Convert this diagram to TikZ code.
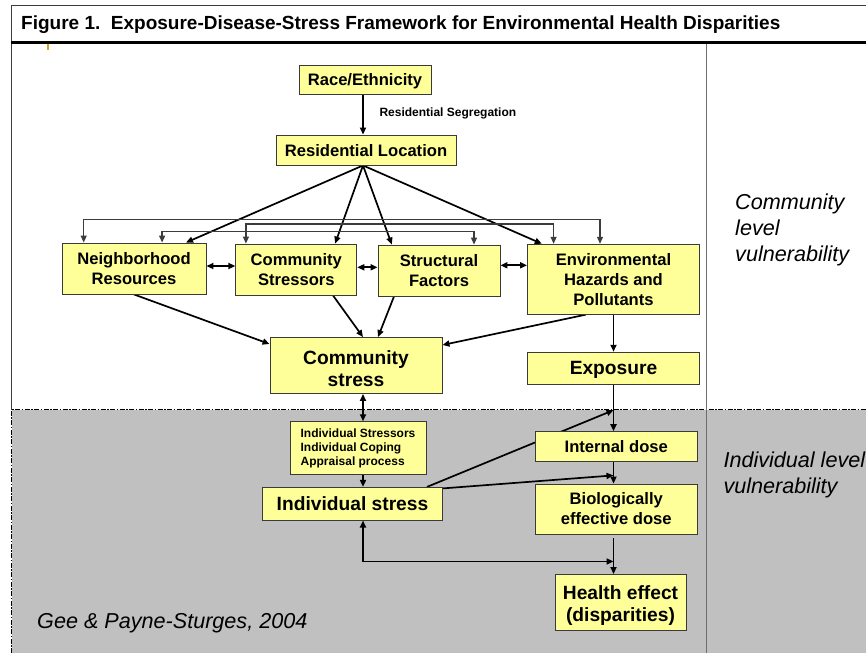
\documentclass[tikz,border=0pt]{standalone}
\usepackage{fontspec}
\setmainfont{Liberation Sans}
\usetikzlibrary{arrows.meta,calc}
\definecolor{boxfill}{HTML}{FFFF99}
\definecolor{boxline}{HTML}{3A3A3A}
\definecolor{panelgray}{HTML}{C0C0C0}
\definecolor{rulegray}{HTML}{6E6E6E}
\definecolor{framegray}{HTML}{3C3C3C}
\definecolor{tickgold}{HTML}{D9A21B}
\newcommand{\setfs}[2]{\fontsize{#1}{#2}\selectfont}
% raises the first line's height to a full em so two-line labels sit a little lower
\newcommand{\firstline}{\rule{0pt}{1em}}
\pgfdeclarelayer{back}
\pgfdeclarelayer{wires}
\pgfsetlayers{back,wires,main}
\begin{document}
\begin{tikzpicture}[x=1pt,y=-1pt,
  box/.style={draw=boxline, line width=0.9pt, fill=boxfill, inner sep=0pt,
              align=center, font=\bfseries\setfs{16.6}{20}},
  bigbox/.style={box, font=\bfseries\setfs{19.2}{22}},
  oneline/.style={text depth=0pt},
  smallbox/.style={box, align=left, font=\bfseries\setfs{12}{14}},
  tip/.tip={Triangle[length=7pt,width=6pt]},
  link/.style={line width=1.7pt, -tip},
  dlink/.style={line width=1.7pt, tip-tip},
  bracket/.style={draw=framegray, line width=1.25pt, tip-tip},
  sidelabel/.style={inner sep=0pt, align=left, font=\itshape\setfs{21.6}{26}},
  dashdot/.style={line width=1.2pt, dash pattern=on 5pt off 1.5pt on 1.5pt off 1.5pt}]
\useasboundingbox (0,0) rectangle (866,653);

% ---- frame, panels and rules ----
\begin{pgfonlayer}{back}
  \fill[white] (0,0) rectangle (866,653);
  \fill[panelgray] (11.7,409.5) rectangle (866,653);
  \draw[dashdot] (11.7,653) -- (11.7,409.5) -- (866,409.5);
  \draw[framegray, line width=1.5pt] (11.7,409.5) -- (11.7,5.7) -- (866,5.7);
  \draw[line width=3.3pt] (10.9,42.3) -- (866,42.3);
  \draw[rulegray, line width=1.4pt] (706.7,44) -- (706.7,653);
  \draw[tickgold, line width=1.6pt] (47.8,44) -- (47.8,50);
\end{pgfonlayer}

% ---- title and side labels ----
\node[inner sep=0pt, anchor=west, font=\bfseries\setfs{19}{22}] (title) at (21,25)
  {Figure 1.\ \ Exposure-Disease-Stress Framework for Environmental Health Disparities};
\node[sidelabel, anchor=north west] (commlevel) at (735,194) {Community\\level\\vulnerability};
\node[sidelabel, anchor=north west] (indlevel) at (723.3,451.2) {Individual level\\vulnerability};
\node[inner sep=0pt, anchor=base west, font=\itshape\setfs{21.6}{24}] (cite) at (37,628.5)
  {Gee \& Payne-Sturges, 2004};

% ---- boxes ----
\node[box, oneline, minimum width=132pt, minimum height=29pt] (race) at (365,79.5) {Race/Ethnicity};
\node[box, oneline, minimum width=180pt, minimum height=30pt] (resloc) at (366,150) {Residential Location};
\node[box, minimum width=144pt, minimum height=51pt] (nbr) at (134,268.5) {Neighborhood\\Resources};
\node[box, minimum width=121pt, minimum height=51pt] (cstr) at (296.3,269.5) {Community\\Stressors};
\node[box, minimum width=122pt, minimum height=51pt] (sf) at (439,270.5) {Structural\\Factors};
\node[box, minimum width=172pt, minimum height=70pt] (env) at (613.5,279.2) {Environmental\\Hazards and\\Pollutants};
\node[bigbox, minimum width=172pt, minimum height=56pt] (cst) at (356,365.5) {\firstline Community\\stress};
\node[bigbox, oneline, minimum width=172pt, minimum height=32pt] (expo) at (613.5,368.2) {Exposure};
\node[smallbox, minimum width=136pt, minimum height=52.6pt] (ind) at (358,448)
  {Individual Stressors\\Individual Coping\\Appraisal process};
\node[bigbox, oneline, minimum width=179.6pt, minimum height=32.7pt] (ist) at (352.5,503.7) {Individual stress};
\node[box, oneline, minimum width=162.7pt, minimum height=29.3pt] (idose) at (616.3,446.3) {Internal dose};
\node[box, minimum width=162.7pt, minimum height=50pt] (bio) at (616.3,509) {Biologically\\effective dose};
\node[bigbox, minimum width=131pt, minimum height=56pt] (health) at (620.5,602.5) {\firstline Health effect\\(disparities)};
\node[inner sep=0pt, anchor=west, font=\bfseries\setfs{12}{14}] (seg) at (379.3,113) {Residential Segregation};

% ---- connectors ----
\begin{pgfonlayer}{wires}
  % race to residential location
  \draw[link] ($(race.south)+(-2,0)$) -- ($(resloc.north)+(-3,0)$);

  % fan out from residential location
  \coordinate (hub) at ($(resloc.south)+(-3,0)$);
  \draw[link] (hub) -- ($(nbr.north)+(52,0)$);
  \draw[link] (hub) -- ($(cstr.north)+(38.8,0)$);
  \draw[link] (hub) -- ($(sf.north)+(-47.2,0)$);
  \draw[link] (hub) -- ($(env.north)+(-71.7,0)$);

  % links over the top of the four boxes
  \draw[bracket] ($(nbr.north)+(-50.3,0)$) -- ++(0,-23) -| ($(env.north)+(-13.5,0)$);
  \draw[bracket] ($(cstr.north)+(-50.4,0)$) -- ++(0,-19.5) -| ($(env.north)+(-59.9,0)$);
  \draw[bracket] ($(nbr.north)+(28.1,0)$) -- ++(0,-11) -| ($(sf.north)+(35,0)$);

  % side-by-side two-way links
  \coordinate (h1) at ($(nbr.east)+(0,-2.5)$);
  \draw[dlink] (h1) -- (h1 -| cstr.west);
  \coordinate (h2) at ($(cstr.east)+(0,-2.2)$);
  \draw[dlink] (h2) -- (h2 -| sf.west);
  \coordinate (h3) at ($(sf.east)+(0,-5.2)$);
  \draw[dlink] (h3) -- (h3 -| env.west);

  % into community stress
  \draw[link] (nbr.south) -- ($(cst.west)+(0,-21.5)$);
  \draw[link] ($(cstr.south)+(36.7,0)$) -- ($(cst.north)+(7,0)$);
  \draw[link] ($(sf.south)+(-45,0)$) -- ($(cst.north)+(22,0)$);
  \draw[link] ($(env.south)+(-27.7,0)$) -- ($(cst.east)+(0,-20.5)$);

  % exposure column
  \draw[link] (env.south) -- (expo.north);
  \draw[link] (expo.south) -- (expo.south |- idose.north);
  \coordinate (ex) at ($(expo.south)+(0,25.5)$);
  \coordinate (ids) at (expo.south |- idose.south);
  \coordinate (eb) at ($(ids)+(0,14)$);
  \draw[link] (ids) -- (expo.south |- bio.north);
  \coordinate (bs) at (expo.south |- bio.south);
  \draw[link] ($(bs)+(0,4)$) -- (expo.south |- health.north);
  \coordinate (hb) at ($(bs)+(0,27)$);

  % individual column
  \draw[dlink] ($(cst.south)+(7,0)$) -- ($(ind.north)+(5,0)$);
  \draw[link] ($(ind.south)+(5,0)$) -- ($(ist.north)+(10.5,0)$);
  \draw[link] ($(ist.north)+(74.5,0)$) -- (ex);
  \draw[link] ($(ist.north east)+(0,1.5)$) -- (eb);
  \draw[dlink] ($(ist.south)+(10.5,0)$) |- (hb);
\end{pgfonlayer}
\end{tikzpicture}
\end{document}
